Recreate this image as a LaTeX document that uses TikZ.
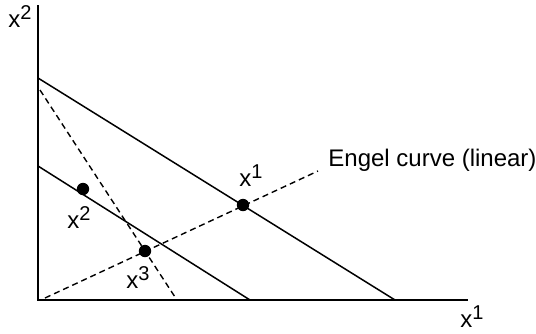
\documentclass[tikz,border=0pt]{standalone}
\usepackage{fontspec}
\setmainfont{Liberation Sans}
\usetikzlibrary{positioning}
\newcommand{\supdig}[1]{\raisebox{0.62ex}{\fontsize{10}{12}\selectfont #1}}
\tikzset{
  axis/.style = {line width=0.75pt},
  budget/.style = {line width=0.75pt},
  guide/.style = {line width=0.7pt, dash pattern=on 3pt off 2pt},
  bundle/.style = {circle, fill, inner sep=0pt, minimum size=6.2pt},
  lbl/.style = {anchor=base west, inner sep=0pt, font=\fontsize{12}{14}\selectfont},
}

\begin{document}
\begin{tikzpicture}[x=0.5pt, y=-0.5pt]
\useasboundingbox (0,0) rectangle (536,333);

% axes
\coordinate (O)    at (38,300);
\coordinate (ytop) at (38,5);
\coordinate (xend) at (468,300);
\draw[axis] (ytop) -- (O) -- (xend);

% budget lines
\coordinate (b1top) at (38,78);
\coordinate (b1bot) at (395,300);
\coordinate (b2top) at (38,166);
\coordinate (b2bot) at (250,300);
\draw[budget] (b1top) -- (b1bot);
\draw[budget] (b2top) -- (b2bot);

% dashed lines
\coordinate (steeptop) at (40,90);
\coordinate (steepbot) at (175,297);
\coordinate (engelbot) at (45,298);
\coordinate (engeltop) at (318,171);
\draw[guide] (steeptop) -- (steepbot);
\draw[guide] (engelbot) -- (engeltop);

% bundles
\node[bundle] (xone)   at (243,205) {};
\node[bundle] (xtwo)   at (83,189)  {};
\node[bundle] (xthree) at (145,251) {};

% labels
\node[lbl] (yname)  at (8,27)    {x\supdig{2}};
\node[lbl] (xname)  at (460,327) {x\supdig{1}};
\node[lbl] (lone)   at (239,186) {x\supdig{1}};
\node[lbl] (ltwo)   at (67,228)  {x\supdig{2}};
\node[lbl] (lthree) at (126,288) {x\supdig{3}};
\node[lbl] (engel)  at (328,166) {Engel curve (linear)};
\end{tikzpicture}
\end{document}
